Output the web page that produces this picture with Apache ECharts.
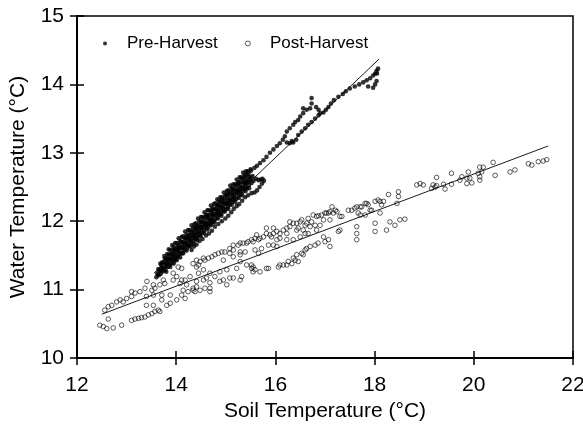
<!DOCTYPE html>
<html>
<head>
<meta charset="utf-8">
<script src="https://cdn.jsdelivr.net/npm/echarts@6/dist/echarts.min.js"></script>
<style>
  html, body { margin: 0; padding: 0; background: #fff; }
  #chart { width: 583px; height: 424px; }
</style>
</head>
<body>
<div id="chart"></div>
<script>
// Soil vs. water temperature (°C), pre- and post-harvest observations

const seriesNames = ['Pre-Harvest', 'Post-Harvest'];
const xTicks = { min: 12, max: 22, step: 2 };
const yTicks = { min: 10, max: 15, step: 1 };

// Pre-harvest: dense diagonal band (several parallel streaks)
const preBandTop = [
  [13.85,11.59],[13.92,11.65],[13.98,11.68],[14.05,11.75],[14.11,11.77],[14.18,11.85],[14.24,11.87],[14.31,11.94],
  [14.37,11.96],[14.44,12.04],[14.50,12.06],[14.57,12.13],[14.63,12.16],[14.70,12.23],[14.76,12.25],[14.83,12.32],
  [14.89,12.35],[14.96,12.42],[15.02,12.44],[15.09,12.52],[15.15,12.54],[15.22,12.61],[15.28,12.64],[15.35,12.71],
  [15.41,12.73]
];
const preBandHigh = [
  [13.76,11.49],[13.82,11.52],[13.88,11.58],[13.95,11.62],[14.01,11.68],[14.08,11.71],[14.14,11.78],[14.21,11.81],
  [14.27,11.87],[14.34,11.90],[14.40,11.97],[14.47,12.00],[14.53,12.06],[14.60,12.09],[14.66,12.16],[14.73,12.19],
  [14.79,12.26],[14.86,12.29],[14.92,12.35],[14.99,12.38],[15.05,12.45],[15.12,12.48],[15.18,12.54],[15.25,12.57],
  [15.31,12.64],[15.38,12.67],[15.44,12.73],[15.50,12.76]
];
const preBandUpper = [
  [13.68,11.38],[13.72,11.40],[13.77,11.45],[13.80,11.46],[13.85,11.51],[13.89,11.52],[13.93,11.57],[13.97,11.59],
  [14.02,11.62],[14.05,11.65],[14.10,11.69],[14.13,11.70],[14.18,11.75],[14.21,11.77],[14.26,11.80],[14.30,11.84],
  [14.33,11.85],[14.38,11.90],[14.41,11.92],[14.45,11.94],[14.50,11.99],[14.53,12.00],[14.58,12.05],[14.62,12.08],
  [14.65,12.09],[14.70,12.14],[14.73,12.16],[14.77,12.18],[14.82,12.23],[14.85,12.24],[14.90,12.29],[14.93,12.31],
  [14.97,12.33],[15.02,12.38],[15.05,12.40],[15.10,12.43],[15.14,12.47],[15.17,12.48],[15.22,12.53],[15.25,12.55],
  [15.30,12.58],[15.34,12.62],[15.38,12.64],[15.42,12.68],[15.46,12.70],[15.51,12.74]
];
const preBandMidHigh = [
  [13.64,11.30],[13.70,11.36],[13.75,11.40],[13.81,11.44],[13.86,11.46],[13.92,11.52],[13.97,11.56],[14.03,11.60],
  [14.08,11.63],[14.14,11.68],[14.19,11.73],[14.25,11.76],[14.30,11.79],[14.36,11.84],[14.41,11.89],[14.47,11.92],
  [14.52,11.95],[14.58,12.00],[14.63,12.05],[14.69,12.09],[14.74,12.11],[14.80,12.17],[14.85,12.21],[14.91,12.25],
  [14.96,12.27],[15.02,12.33],[15.07,12.38],[15.13,12.41],[15.18,12.44],[15.24,12.49],[15.29,12.54],[15.35,12.57],
  [15.40,12.60],[15.46,12.65]
];
const preBandMid = [
  [13.62,11.24],[13.66,11.28],[13.70,11.31],[13.73,11.32],[13.78,11.37],[13.81,11.39],[13.86,11.43],[13.89,11.45],
  [13.94,11.49],[13.97,11.51],[14.02,11.55],[14.05,11.57],[14.10,11.61],[14.13,11.62],[14.18,11.67],[14.21,11.68],
  [14.26,11.72],[14.29,11.74],[14.34,11.78],[14.37,11.80],[14.42,11.84],[14.45,11.86],[14.50,11.90],[14.53,11.91],
  [14.58,11.96],[14.61,11.97],[14.66,12.02],[14.69,12.03],[14.74,12.08],[14.77,12.10],[14.82,12.14],[14.85,12.16],
  [14.90,12.20],[14.93,12.21],[14.98,12.26],[15.01,12.27],[15.06,12.31],[15.09,12.33],[15.14,12.37],[15.17,12.39],
  [15.22,12.43],[15.25,12.45],[15.30,12.49],[15.33,12.50],[15.38,12.55],[15.41,12.57],[15.46,12.61],[15.50,12.64],
  [15.54,12.66]
];
const preBandMidLow = [
  [13.63,11.22],[13.69,11.27],[13.74,11.30],[13.80,11.34],[13.85,11.38],[13.91,11.44],[13.96,11.46],[14.02,11.50],
  [14.07,11.54],[14.13,11.60],[14.18,11.63],[14.24,11.66],[14.29,11.71],[14.35,11.76],[14.40,11.79],[14.46,11.82],
  [14.51,11.87],[14.57,11.92],[14.62,11.95],[14.68,11.98],[14.73,12.03],[14.79,12.09],[14.84,12.11],[14.90,12.15],
  [14.95,12.19],[15.01,12.25],[15.06,12.27],[15.12,12.31],[15.17,12.35],[15.23,12.41],[15.28,12.44],[15.34,12.47],
  [15.39,12.52],[15.45,12.57],[15.50,12.60]
];
const preBandLower = [
  [13.60,11.18],[13.65,11.21],[13.69,11.23],[13.74,11.27],[13.78,11.29],[13.83,11.33],[13.87,11.36],[13.91,11.39],
  [13.96,11.42],[14.00,11.45],[14.04,11.48],[14.09,11.52],[14.13,11.54],[14.17,11.58],[14.22,11.61],[14.26,11.64],
  [14.30,11.67],[14.35,11.71],[14.39,11.74],[14.43,11.76],[14.48,11.80],[14.52,11.83],[14.56,11.86],[14.61,11.90],
  [14.65,11.92],[14.69,11.96],[14.74,11.99],[14.78,12.02],[14.82,12.05],[14.87,12.09],[14.91,12.11],[14.95,12.15],
  [15.00,12.18],[15.04,12.21],[15.08,12.24],[15.13,12.28],[15.17,12.31],[15.21,12.33],[15.26,12.37],[15.30,12.40],
  [15.34,12.43],[15.39,12.47],[15.43,12.49],[15.47,12.53],[15.52,12.56],[15.56,12.59]
];
const preBandLow2 = [
  [13.80,11.26],[13.88,11.33],[13.95,11.38],[14.01,11.43],[14.08,11.47],[14.14,11.53],[14.21,11.57],[14.28,11.63],
  [14.35,11.67],[14.42,11.73],[14.49,11.78],[14.56,11.83],[14.63,11.88],[14.70,11.94],[14.77,11.98],[14.84,12.04],
  [14.91,12.08],[14.98,12.14],[15.05,12.18],[15.12,12.24],[15.19,12.28],[15.26,12.34],[15.33,12.38],[15.40,12.44],
  [15.47,12.48]
];
const preSideStreak = [
  [14.31,11.58],[14.36,11.63],[14.41,11.66],[14.47,11.71],[14.53,11.74],[14.60,11.79],[14.66,11.82],[14.72,11.86],
  [14.78,11.92],[14.85,11.96],[14.92,12.00],[14.99,12.04],[15.05,12.08],[15.11,12.13],[15.16,12.18],[15.22,12.22],
  [15.27,12.25],[15.33,12.30],[15.39,12.35],[15.45,12.38],[15.52,12.41],[15.58,12.42],[15.63,12.45],[15.68,12.50],
  [15.73,12.55],[15.77,12.59],[15.74,12.62],[15.70,12.61],[15.66,12.60],[15.61,12.62]
];
// Pre-harvest: warmer end, thinning out along the trend
const preUpper = [
  [15.58,12.78],[15.63,12.81],[15.69,12.85],[15.76,12.89],[15.82,12.94],[15.89,13.00],[15.96,13.05],[16.03,13.10],
  [16.09,13.14],[16.15,13.19],[16.19,13.24],[16.23,13.31],[16.29,13.36],[16.36,13.41],[16.40,13.45],[16.46,13.48],
  [16.50,13.53],[16.56,13.58],[16.56,13.65],[16.63,13.63],[16.70,13.65],[16.73,13.72],[16.73,13.80],[16.82,13.67],
  [16.87,13.63],[16.90,13.58],[16.97,13.59],[17.02,13.63],[17.07,13.67],[17.12,13.72],[17.18,13.77],[17.27,13.82],
  [17.36,13.86],[17.42,13.90],[17.50,13.94],[17.60,13.97],[17.69,14.00],[17.77,14.03],[17.84,14.06],[17.91,14.09],
  [17.97,14.13],[18.01,14.16],[18.05,14.16],[18.04,14.20],[18.07,14.23],[18.04,14.05],[18.01,14.00],[17.87,13.97],
  [17.97,13.95]
];
const preLowerRow = [
  [16.23,13.15],[16.29,13.14],[16.33,13.17],[16.36,13.15],[16.42,13.19],[16.46,13.26],[16.53,13.31],[16.60,13.36],
  [16.66,13.41],[16.73,13.45],[16.80,13.50],[16.87,13.55]
];

// Post-harvest: points mostly below the fitted line
const postLower = [
  [12.46,10.48],[12.53,10.46],[12.60,10.43],[12.73,10.44],[12.90,10.48],[12.63,10.57],[13.10,10.55],[13.17,10.57],
  [13.24,10.58],[13.30,10.59],[13.37,10.60],[13.44,10.63],[13.51,10.65],[13.57,10.68],[13.64,10.70],[13.67,10.68],
  [13.81,10.77],[13.88,10.80],[13.54,10.77],[13.40,10.77],[13.71,10.85],[14.01,10.85],[14.18,10.87],[14.11,10.92],
  [14.38,10.97],[14.41,11.04],[14.58,11.02],[14.68,11.02],[15.02,11.07],[14.55,11.14],[14.95,11.14],[15.08,11.17],
  [15.32,11.19],[15.29,11.14],[14.28,11.19],[14.45,11.24],[14.55,11.29],[14.68,11.24],[14.78,11.19],[14.88,11.26],
  [15.02,11.29],[15.22,11.31],[15.52,11.31],[15.59,11.29],[15.69,11.26],[15.86,11.31],[16.06,11.33],[16.16,11.36],
  [16.26,11.41],[16.36,11.46],[16.43,11.51],[16.53,11.53],[16.60,11.58],[16.63,11.60],[16.56,11.51],[15.52,11.36],
  [15.55,11.33],[15.82,11.31],[16.09,11.36],[16.23,11.36],[16.33,11.38],[16.40,11.43],[16.46,11.41],[16.70,11.63],
  [16.80,11.65],[16.86,11.68],[17.00,11.70],[17.07,11.73],[17.10,11.63],[16.97,11.77],[17.64,11.92],[17.64,11.82],
  [17.64,11.73],[18.01,11.97],[18.01,11.85],[18.24,11.87],[18.31,11.99],[18.41,11.94],[18.51,12.02],[18.61,12.03],
  [17.30,11.87],[17.27,11.85],[16.66,11.82],[16.50,11.77],[15.29,11.41],[15.42,11.36],[15.55,11.26],[14.61,11.17],
  [14.68,10.97],[14.48,10.99],[14.68,11.10],[14.88,11.12],[15.15,11.17],[14.21,11.07],[14.34,11.02],[14.41,11.12],
  [14.24,10.97],[14.14,10.99],[14.34,10.99]
];
// Post-harvest: points on and above the fitted line
const postUpper = [
  [12.56,10.70],[12.63,10.75],[12.70,10.77],[12.80,10.82],[12.87,10.85],[12.93,10.82],[13.00,10.87],[13.10,10.90],
  [13.10,10.97],[13.17,10.95],[13.27,10.97],[13.37,11.02],[13.41,11.12],[13.54,11.07],[13.51,10.99],[13.57,11.02],
  [13.67,11.07],[13.74,11.14],[13.77,11.09],[13.54,10.92],[13.40,10.90],[13.71,10.92],[13.88,10.92],[13.94,11.14],
  [14.01,11.19],[14.08,11.09],[14.18,11.14],[13.74,11.36],[13.94,11.24],[14.11,11.14],[14.04,11.33],[14.11,11.31],
  [14.34,11.38],[14.41,11.33],[14.45,11.36],[14.41,11.43],[14.48,11.41],[14.55,11.46],[14.58,11.43],[14.65,11.46],
  [14.72,11.48],[14.78,11.51],[14.85,11.53],[14.92,11.55],[14.98,11.55],[15.08,11.53],[15.08,11.60],[15.15,11.48],
  [15.15,11.58],[15.25,11.65],[15.29,11.55],[15.29,11.68],[15.35,11.68],[15.42,11.68],[15.45,11.70],[15.52,11.73],
  [15.55,11.70],[15.59,11.75],[15.62,11.80],[15.66,11.73],[15.69,11.75],[15.76,11.77],[15.82,11.82],[15.82,11.90],
  [15.89,11.80],[15.92,11.77],[15.96,11.82],[15.96,11.90],[16.03,11.85],[16.09,11.82],[16.09,11.75],[16.16,11.87],
  [16.23,11.90],[16.29,11.92],[16.29,11.99],[16.36,11.97],[16.43,11.97],[16.46,11.90],[16.50,11.99],[16.53,12.02],
  [16.56,11.87],[16.60,11.94],[16.60,11.82],[16.63,11.97],[16.66,12.04],[16.70,11.92],[16.73,11.99],[16.76,12.09],
  [16.80,11.94],[16.83,12.07],[16.83,11.87],[16.87,12.08],[16.90,11.94],[16.93,12.09],[16.97,12.02],[17.00,12.12],
  [17.03,12.12],[17.07,12.12],[17.10,12.14],[17.10,12.02],[17.14,12.21],[17.17,12.12],[17.21,12.16],[17.24,12.14],
  [17.30,12.07],[17.34,12.07],[17.47,12.16],[17.54,12.16],[17.60,12.19],[17.64,12.21],[17.67,12.12],[17.71,12.21],
  [17.71,12.09],[17.74,12.21],[17.81,12.26],[17.81,12.09],[17.84,12.26],[17.87,12.24],[17.91,12.16],[17.94,12.16],
  [18.01,12.29],[18.07,12.31],[18.11,12.29],[18.11,12.12],[18.14,12.24],[18.18,12.29],[18.28,12.39],[18.45,12.26],
  [18.48,12.43],[18.48,12.36],
  [14.95,11.43],[15.29,11.51],[15.39,11.55],[15.59,11.58],[15.72,11.60],[15.86,11.65],[16.03,11.73],[15.96,11.65],
  [15.66,11.53],[16.23,11.82],[16.43,11.87],[16.03,11.63],[16.23,11.73],[16.36,11.73],[15.15,11.65]
];
// Post-harvest: warmest soil temperatures
const postRight = [
  [18.85,12.53],[18.92,12.55],[18.98,12.53],[19.15,12.48],[19.18,12.53],[19.22,12.50],[19.25,12.52],[19.25,12.64],
  [19.39,12.54],[19.42,12.47],[19.55,12.54],[19.55,12.70],[19.72,12.60],[19.76,12.65],[19.86,12.63],[19.86,12.55],
  [19.89,12.72],[19.92,12.63],[19.96,12.56],[20.09,12.70],[20.12,12.79],[20.12,12.65],[20.12,12.60],[20.16,12.72],
  [20.19,12.79],[20.39,12.86],[20.43,12.67],[20.73,12.72],[20.83,12.75],[21.10,12.84],[21.17,12.82],[21.30,12.87],
  [21.40,12.88],[21.47,12.90]
];

// Fitted regression lines (end points)
const preFit = [[13.55, 11.24], [18.09, 14.37]];
const postFit = [[12.50, 10.64], [21.50, 13.10]];

const FONT = '"Liberation Sans", Arial, Helvetica, sans-serif';

const preData = [].concat(preBandTop, preBandHigh, preBandUpper, preBandMidHigh, preBandMid, preBandMidLow,
                          preBandLower, preBandLow2, preSideStreak, preUpper, preLowerRow);
const postData = [].concat(postLower, postUpper, postRight);

const chart = echarts.init(document.getElementById('chart'), null, { renderer: 'canvas' });

function mainAxis(range, extra) {
  return Object.assign({
    type: 'value',
    min: range.min, max: range.max, interval: range.step,
    axisLine: { show: true, onZero: false, lineStyle: { color: '#000', width: 2 } },
    axisTick: { show: true, inside: false, length: 7, lineStyle: { color: '#000', width: 1.5 } },
    splitLine: { show: false },
    nameLocation: 'middle',
    nameTextStyle: { color: '#000', fontSize: 21, fontFamily: FONT }
  }, extra);
}
function innerTickAxis(range, extra) {
  return Object.assign({
    type: 'value',
    min: range.min, max: range.max, interval: range.step,
    axisLine: { show: false, onZero: false },
    axisTick: { show: true, inside: true, length: 7, lineStyle: { color: '#000', width: 1.5 } },
    axisLabel: { show: false },
    splitLine: { show: false }
  }, extra);
}

chart.setOption({
  animation: false,
  backgroundColor: '#fff',
  grid: {
    left: 77, right: 10, top: 16, bottom: 66,
    containLabel: false, outerBoundsMode: 'none',
    show: true, borderColor: '#000', borderWidth: 1.5
  },
  legend: [
    {
      data: [seriesNames[0]], left: 98, top: 30, itemWidth: 34, itemHeight: 4,
      textStyle: { color: '#000', fontSize: 17, fontFamily: FONT }
    },
    {
      data: [seriesNames[1]], left: 240, top: 30, itemWidth: 34, itemHeight: 5,
      itemStyle: { color: 'rgba(0,0,0,0)', borderColor: '#000', borderWidth: 0.8 },
      textStyle: { color: '#000', fontSize: 17, fontFamily: FONT }
    }
  ],
  xAxis: [
    mainAxis(xTicks, { position: 'bottom', name: 'Soil Temperature (°C)', nameGap: 41,
      axisLabel: { color: '#000', fontSize: 21, fontFamily: FONT, margin: 17 } }),
    innerTickAxis(xTicks, { position: 'bottom' })
  ],
  yAxis: [
    mainAxis(yTicks, { position: 'left', name: 'Water Temperature (°C)', nameGap: 48,
      axisLabel: { color: '#000', fontSize: 21, fontFamily: FONT, margin: 13 } }),
    innerTickAxis(yTicks, { position: 'left' })
  ],
  series: [
    {
      name: seriesNames[0], type: 'scatter', data: preData,
      symbol: 'circle', symbolSize: 4.6,
      itemStyle: { color: '#000' }, z: 3
    },
    {
      name: seriesNames[1], type: 'scatter', data: postData,
      symbol: 'circle', symbolSize: 4.6,
      itemStyle: { color: 'rgba(0,0,0,0)', borderColor: '#000', borderWidth: 0.8 }, z: 3
    },
    {
      name: 'preFit', type: 'line', data: preFit, showSymbol: false, silent: true,
      lineStyle: { color: '#000', width: 0.9 }, z: 2
    },
    {
      name: 'postFit', type: 'line', data: postFit, showSymbol: false, silent: true,
      lineStyle: { color: '#000', width: 0.9 }, z: 2
    }
  ]
});
</script>
</body>
</html>
